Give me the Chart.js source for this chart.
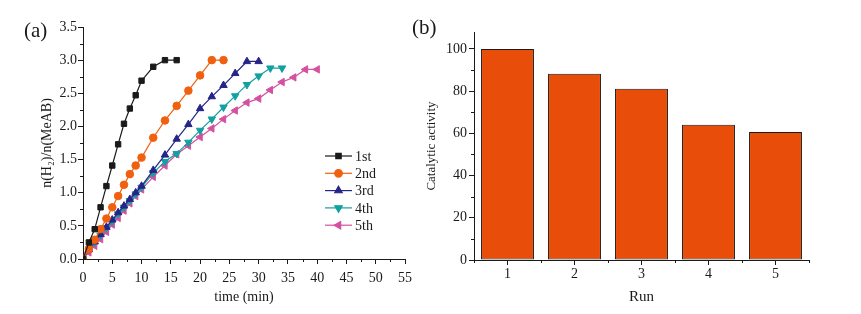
<!DOCTYPE html>
<html>
<head>
<meta charset="utf-8">
<script src="https://cdn.jsdelivr.net/npm/chart.js@4.4.1/dist/chart.umd.min.js"></script>
<style>
  html, body { margin: 0; padding: 0; background: #fff; }
  body { width: 861px; height: 314px; position: relative; overflow: hidden; font-family: 'Liberation Serif', 'Times New Roman', serif; }
  .panel { position: absolute; top: 0; height: 314px; }
  #boxA { left: 0; width: 420px; }
  #boxB { left: 420px; width: 441px; }
  .tag { position: absolute; font-size: 21px; line-height: 21px; color: #1a1a1a; }
</style>
</head>
<body>
<div class="panel" id="boxA"><canvas id="chartA"></canvas></div>
<div class="panel" id="boxB"><canvas id="chartB"></canvas></div>
<div class="tag" style="left:24px;top:20px">(a)</div>
<div class="tag" style="left:412px;top:17px">(b)</div>
<script>
// panel (a): H2 released vs time, five runs
const runNames = ['1st', '2nd', '3rd', '4th', '5th'];
const time1 = [0, 1, 2, 3, 4, 5, 6, 7, 8, 9, 10, 12, 14, 16];
const run1 = [0, 0.25, 0.45, 0.78, 1.10, 1.41, 1.73, 2.04, 2.27, 2.47, 2.69, 2.90, 3.00, 3.00];
const time2 = [0, 1, 2, 3, 4, 5, 6, 7, 8, 9, 10, 12, 14, 16, 18, 20, 22, 24];
const run2 = [0, 0.15, 0.29, 0.45, 0.61, 0.78, 0.95, 1.12, 1.28, 1.41, 1.53, 1.83, 2.09, 2.31, 2.54, 2.77, 3.00, 3.00];
const time3 = [0, 1, 2, 3, 4, 5, 6, 7, 8, 9, 10, 12, 14, 16, 18, 20, 22, 24, 26, 28, 30];
const run3 = [0, 0.14, 0.26, 0.37, 0.48, 0.59, 0.70, 0.80, 0.90, 1.00, 1.10, 1.34, 1.57, 1.81, 2.03, 2.27, 2.45, 2.62, 2.80, 2.98, 2.98];
const time4 = [0, 1, 2, 3, 4, 5, 6, 7, 8, 9, 10, 12, 14, 16, 18, 20, 22, 24, 26, 28, 30, 32, 34];
const run4 = [0, 0.15, 0.25, 0.36, 0.47, 0.57, 0.68, 0.78, 0.88, 0.98, 1.08, 1.30, 1.47, 1.59, 1.76, 1.94, 2.11, 2.29, 2.46, 2.63, 2.76, 2.88, 2.88];
const time5 = [0, 1, 2, 3, 4, 5, 6, 7, 8, 9, 10, 12, 14, 16, 18, 20, 22, 24, 26, 28, 30, 32, 34, 36, 38, 40];
const run5 = [0, 0.10, 0.20, 0.30, 0.41, 0.52, 0.62, 0.73, 0.84, 0.95, 1.05, 1.24, 1.41, 1.58, 1.71, 1.84, 1.97, 2.11, 2.24, 2.36, 2.42, 2.55, 2.67, 2.74, 2.86, 2.86];

// panel (b): activity per run
const runLabels = ['1', '2', '3', '4', '5'];
const activity = [100, 88.2, 81.1, 64.1, 60.6];

const ink = '#1a1a1a';
Chart.defaults.font.family = "'Liberation Serif', 'Times New Roman', serif";
Chart.defaults.font.size = 14;
Chart.defaults.color = ink;

function pts(t, v) {
    return t.map((x, i) => ({ x: x, y: v[i] }));
}

function series(label, t, v, color, style, rot) {
    return {
        label: label,
        data: pts(t, v),
        borderColor: color,
        backgroundColor: color,
        pointBackgroundColor: color,
        pointBorderColor: color,
        borderWidth: 1.2,
        pointStyle: style,
        pointRotation: rot,
        pointRadius: style === 'triangle' ? 4.3 : 3.8,
        pointBorderWidth: 1,
        tension: 0
    };
}

// major ticks get the normal grid tick, unlabeled ones are hidden and redrawn short
const majorOnly = c => (c.tick && c.tick.label !== '' ? ink : 'rgba(0,0,0,0)');

const minorTicks = {
    id: 'minorTicks',
    afterDraw(chart) {
        const ctx = chart.ctx;
        ctx.save();
        ctx.strokeStyle = ink;
        ctx.lineWidth = 1;
        Object.values(chart.scales).forEach(s => {
            if (s.type !== 'linear') return;
            s.ticks.forEach(t => {
                if (t.label !== '') return;
                const p = Math.round(s.getPixelForValue(t.value)) + 0.5;
                ctx.beginPath();
                if (s.isHorizontal()) {
                    ctx.moveTo(p, s.top);
                    ctx.lineTo(p, s.top + 3);
                } else {
                    ctx.moveTo(s.right, p);
                    ctx.lineTo(s.right - 3, p);
                }
                ctx.stroke();
            });
        });
        ctx.restore();
    }
};

const runLegend = {
    id: 'runLegend',
    afterDatasetsDraw(chart) {
        const ctx = chart.ctx;
        const x0 = 325, y0 = 156, gap = 17.3;
        chart.data.datasets.forEach((ds, i) => {
            const y = y0 + i * gap;
            ctx.save();
            ctx.strokeStyle = ds.borderColor;
            ctx.lineWidth = ds.borderWidth;
            ctx.beginPath();
            ctx.moveTo(x0, y);
            ctx.lineTo(x0 + 27, y);
            ctx.stroke();
            ctx.fillStyle = ds.pointBackgroundColor;
            Chart.helpers.drawPoint(ctx, {
                pointStyle: ds.pointStyle,
                rotation: ds.pointRotation || 0,
                radius: ds.pointRadius,
                borderWidth: 1
            }, x0 + 13.5, y);
            ctx.fillStyle = ink;
            ctx.font = "14px 'Liberation Serif'";
            ctx.textBaseline = 'middle';
            ctx.fillText(ds.label, x0 + 30, y + 1);
            ctx.restore();
        });
    }
};

const chartA = new Chart(document.getElementById('chartA'), {
    type: 'line',
    data: {
        datasets: [
            series(runNames[0], time1, run1, '#1a1a1a', 'rect', 0),
            series(runNames[1], time2, run2, '#f0600f', 'circle', 0),
            series(runNames[2], time3, run3, '#25248a', 'triangle', 0),
            series(runNames[3], time4, run4, '#12a0a0', 'triangle', 180),
            series(runNames[4], time5, run5, '#d4519f', 'triangle', -90)
        ]
    },
    options: {
        animation: false,
        responsive: true,
        maintainAspectRatio: false,
        layout: { padding: { left: 0, right: 15, top: 27, bottom: 0 } },
        scales: {
            x: {
                type: 'linear',
                min: 0,
                max: 55,
                ticks: {
                    stepSize: 2.5,
                    autoSkip: false,
                    maxRotation: 0,
                    padding: 6,
                    callback: v => (Math.abs(v % 5) < 1e-6 ? v : '')
                },
                grid: { drawOnChartArea: false, tickLength: 5, color: ink, tickColor: majorOnly },
                border: { color: ink, width: 1 },
                title: { display: true, text: 'time (min)', padding: { top: 0, bottom: 8 } },
                afterFit: s => { s.height = 55; }
            },
            y: {
                min: 0,
                max: 3.5,
                ticks: {
                    stepSize: 0.25,
                    autoSkip: false,
                    padding: 1,
                    callback: v => (Math.abs(v * 2 - Math.round(v * 2)) < 1e-6 ? v.toFixed(1) : '')
                },
                grid: { drawOnChartArea: false, tickLength: 5, color: ink, tickColor: majorOnly },
                border: { color: ink, width: 1 },
                title: { display: true, text: 'n(H₂)/n(MeAB)', padding: { top: 39, bottom: 0 } },
                afterFit: s => { s.width = 83; }
            }
        },
        plugins: {
            legend: { display: false },
            tooltip: { enabled: false }
        }
    },
    plugins: [runLegend, minorTicks]
});

// small ticks between the run categories
const betweenTicks = {
    id: 'betweenTicks',
    afterDraw(chart) {
        const xs = chart.scales.x;
        const ctx = chart.ctx;
        ctx.save();
        ctx.strokeStyle = ink;
        ctx.lineWidth = 1;
        for (let i = 0; i <= chart.data.labels.length; i++) {
            const px = Math.round(xs.getPixelForValue(i - 0.5)) + 0.5;
            ctx.beginPath();
            ctx.moveTo(px, xs.top);
            ctx.lineTo(px, xs.top + 3);
            ctx.stroke();
        }
        ctx.restore();
    }
};

const chartB = new Chart(document.getElementById('chartB'), {
    type: 'bar',
    data: {
        labels: runLabels,
        datasets: [{
            data: activity,
            backgroundColor: '#e84e0a',
            borderColor: ink,
            borderWidth: 1,
            borderSkipped: false,
            barPercentage: 0.79,
            categoryPercentage: 1
        }]
    },
    options: {
        animation: false,
        responsive: true,
        maintainAspectRatio: false,
        layout: { padding: { left: 0, right: 52, top: 32, bottom: 0 } },
        scales: {
            x: {
                ticks: { padding: 1, maxRotation: 0 },
                grid: { drawOnChartArea: false, tickLength: 5, color: ink, offset: false },
                border: { color: ink, width: 1 },
                title: { display: true, text: 'Run', font: { size: 15 }, padding: { top: 0, bottom: 8 } },
                afterFit: s => { s.height = 54; }
            },
            y: {
                min: 0,
                max: 108,
                ticks: {
                    stepSize: 10,
                    includeBounds: false,
                    padding: 2,
                    callback: v => (v % 20 === 0 ? v : '')
                },
                grid: { drawOnChartArea: false, tickLength: 5, color: ink, tickColor: majorOnly },
                border: { color: ink, width: 1 },
                title: { display: true, text: 'Catalytic activity', font: { size: 13 }, padding: { top: 4, bottom: 0 } },
                afterFit: s => { s.width = 54; }
            }
        },
        plugins: {
            legend: { display: false },
            tooltip: { enabled: false }
        }
    },
    plugins: [betweenTicks, minorTicks]
});
</script>
</body>
</html>
